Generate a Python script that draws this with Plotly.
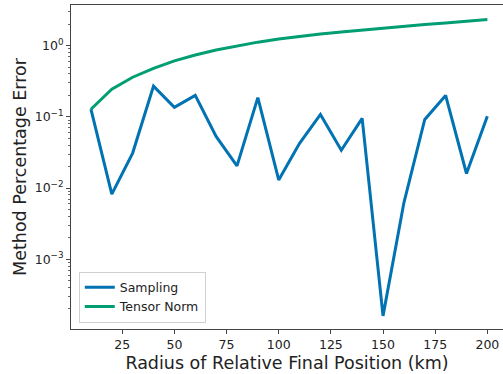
import plotly.graph_objects as go

radius_km = [10, 20, 30, 40, 50, 60, 70, 80, 90, 100, 110, 120, 130, 140, 150, 160, 170, 180, 190, 200]
sampling = [0.128, 0.0082, 0.031, 0.27, 0.136, 0.20, 0.053, 0.0205, 0.186, 0.013,
            0.0425, 0.108, 0.034, 0.095, 0.00016, 0.0062, 0.092, 0.20, 0.016, 0.102]
tensor_norm = [0.128, 0.244, 0.36, 0.48, 0.61, 0.74, 0.87, 0.99, 1.12, 1.24,
               1.35, 1.46, 1.56, 1.66, 1.77, 1.88, 1.98, 2.08, 2.19, 2.33]

y_tick_vals = [1e-3, 1e-2, 1e-1, 1e0]
y_tick_text = ["10<sup>−3</sup>", "10<sup>−2</sup>", "10<sup>−1</sup>", "10<sup>0</sup>"]
x_tick_vals = [25, 50, 75, 100, 125, 150, 175, 200]

minor_vals = [m * 10.0 ** e for e in range(-5, 1) for m in range(2, 10)]

BLUE = "#0173b2"
GREEN = "#029e73"
FONT = "DejaVu Sans"

fig = go.Figure()
fig.add_trace(go.Scatter(x=radius_km, y=sampling, mode="lines", name="Sampling",
                         line=dict(color=BLUE, width=3)))
fig.add_trace(go.Scatter(x=radius_km, y=tensor_norm, mode="lines", name="Tensor Norm",
                         line=dict(color=GREEN, width=3)))

fig.update_layout(
    width=503, height=374,
    margin=dict(l=71, r=0, t=5, b=45),
    paper_bgcolor="white", plot_bgcolor="white",
    font=dict(family=FONT, color="#222"),
    showlegend=True,
    legend=dict(x=0.018, y=0.02, xanchor="left", yanchor="bottom",
                bgcolor="rgba(255,255,255,0.8)", bordercolor="#d0d0d0", borderwidth=1,
                font=dict(size=12.5, family=FONT, color="#222"), itemwidth=30,
                tracegroupgap=0),
    xaxis=dict(
        range=[0.45, 207.5], tickmode="array", tickvals=x_tick_vals,
        showgrid=False, zeroline=False, automargin=False,
        showline=True, linecolor="#444", linewidth=1, mirror=True,
        ticks="outside", ticklen=4, tickcolor="#444",
        tickfont=dict(size=12.5, family=FONT, color="#222"),
        title=dict(text="Radius of Relative Final Position (km)",
                   font=dict(size=17.5, family=FONT, color="#222"), standoff=5),
    ),
    yaxis=dict(
        type="log", range=[-3.98, 0.571], automargin=False,
        tickmode="array", tickvals=y_tick_vals, ticktext=y_tick_text,
        showgrid=False, zeroline=False,
        showline=True, linecolor="#444", linewidth=1,
        ticks="outside", ticklen=4, tickcolor="#444",
        tickfont=dict(size=12.5, family=FONT, color="#222"),
        minor=dict(tickmode="array", tickvals=minor_vals, ticks="outside",
                   ticklen=2, tickcolor="#666", showgrid=False),
        title=dict(text="Method Percentage Error",
                   font=dict(size=17.5, family=FONT, color="#222"), standoff=3),
    ),
)

fig.write_html("out.html", config={"displayModeBar": False},
               post_script="document.body.style.margin='0';document.body.style.overflow='hidden';")
